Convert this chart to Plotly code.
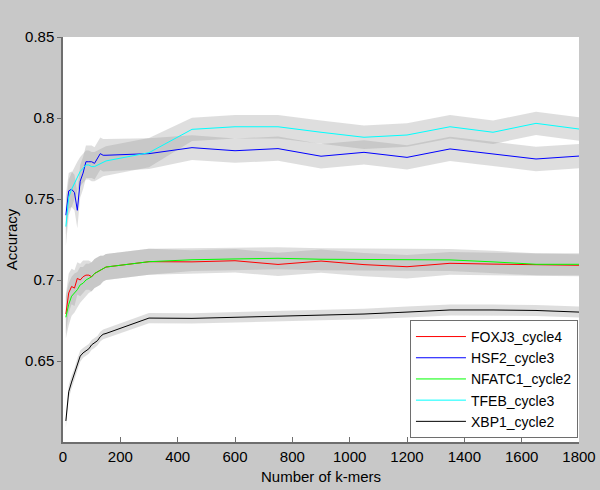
import plotly.graph_objects as go

# ---- data ----
kmers = [10, 20, 30, 40, 50, 60, 70, 80, 90, 100, 110, 120, 130, 140, 150,
         300, 450, 600, 750, 900, 1050, 1200, 1350, 1500, 1650, 1800]

series_names = ["FOXJ3_cycle4", "HSF2_cycle3", "NFATC1_cycle2", "TFEB_cycle3", "XBP1_cycle2"]

foxj3 = [0.679, 0.692, 0.696, 0.695, 0.701, 0.700, 0.702, 0.703, 0.703, 0.702, 0.704, 0.705, 0.706, 0.707, 0.708,
         0.7113, 0.7112, 0.7119, 0.7096, 0.7117, 0.7095, 0.7082, 0.7103, 0.7098, 0.7094, 0.7091]
hsf2 = [0.740, 0.755, 0.756, 0.754, 0.743, 0.761, 0.766, 0.773, 0.773, 0.773, 0.772, 0.775, 0.778, 0.777, 0.777,
        0.7780, 0.7817, 0.7798, 0.7811, 0.7764, 0.7788, 0.7757, 0.7809, 0.7778, 0.7747, 0.7765]
nfatc1 = [0.677, 0.685, 0.690, 0.692, 0.694, 0.697, 0.698, 0.700, 0.701, 0.702, 0.704, 0.705, 0.706, 0.707, 0.708,
          0.7113, 0.7125, 0.7130, 0.7134, 0.7128, 0.7126, 0.7125, 0.7124, 0.7112, 0.7097, 0.7097]
tfeb = [0.733, 0.751, 0.756, 0.760, 0.764, 0.767, 0.769, 0.771, 0.771, 0.770, 0.770, 0.771, 0.772, 0.773, 0.7735,
        0.7786, 0.7930, 0.7946, 0.7946, 0.7912, 0.7881, 0.7895, 0.7946, 0.7912, 0.7967, 0.7932]
xbp1 = [0.613, 0.631, 0.637, 0.642, 0.648, 0.653, 0.655, 0.656, 0.6575, 0.660, 0.661, 0.6625, 0.665, 0.6665, 0.667,
        0.6765, 0.6763, 0.6770, 0.6775, 0.6785, 0.6790, 0.6802, 0.6815, 0.6815, 0.6812, 0.6802]

foxj3_sd = [0.012, 0.012, 0.011, 0.011, 0.010, 0.010, 0.010, 0.009, 0.009, 0.009, 0.009, 0.009, 0.009, 0.008, 0.008,
            0.008, 0.0072, 0.0072, 0.0072, 0.0072, 0.0072, 0.0072, 0.0070, 0.0070, 0.0068, 0.0068]
hsf2_sd = [0.012, 0.011, 0.011, 0.011, 0.011, 0.010, 0.010, 0.010, 0.010, 0.010, 0.010, 0.010, 0.010, 0.010, 0.010,
           0.0095, 0.0076, 0.0075, 0.0075, 0.0075, 0.0075, 0.0075, 0.0075, 0.0075, 0.0075, 0.0075]
nfatc1_sd = [0.013, 0.013, 0.012, 0.012, 0.011, 0.011, 0.010, 0.010, 0.009, 0.009, 0.009, 0.009, 0.009, 0.008, 0.008,
             0.008, 0.0070, 0.0070, 0.0068, 0.0068, 0.0068, 0.0068, 0.0068, 0.0068, 0.0068, 0.0068]
tfeb_sd = [0.012, 0.011, 0.010, 0.010, 0.009, 0.009, 0.009, 0.009, 0.009, 0.009, 0.009, 0.009, 0.009, 0.009, 0.009,
           0.0090, 0.0072, 0.0072, 0.0072, 0.0072, 0.0072, 0.0072, 0.0072, 0.0072, 0.0072, 0.0072]
xbp1_sd = [0.004, 0.004, 0.004, 0.0035, 0.0035, 0.0035, 0.003, 0.003, 0.003, 0.003, 0.003, 0.003, 0.003, 0.003, 0.003,
           0.0032, 0.0032, 0.0032, 0.0032, 0.0033, 0.0033, 0.0034, 0.0034, 0.0034, 0.0034, 0.0034]

series_values = [foxj3, hsf2, nfatc1, tfeb, xbp1]
series_sd = [foxj3_sd, hsf2_sd, nfatc1_sd, tfeb_sd, xbp1_sd]
series_colors = ["#ff0000", "#0000ff", "#00ff00", "#00ffff", "#000000"]

x_ticks = [0, 200, 400, 600, 800, 1000, 1200, 1400, 1600, 1800]
y_ticks = [0.65, 0.70, 0.75, 0.80, 0.85]

# ---- figure ----
fig = go.Figure()

band_fill = "rgba(156,156,156,0.33)"
for vals, sd in zip(series_values, series_sd):
    upper = [v + s for v, s in zip(vals, sd)]
    lower = [v - s for v, s in zip(vals, sd)]
    fig.add_trace(go.Scatter(
        x=kmers + kmers[::-1],
        y=upper + lower[::-1],
        fill="toself", fillcolor=band_fill,
        line=dict(width=0), mode="lines",
        hoverinfo="skip", showlegend=False,
    ))

for name, vals, color in zip(series_names, series_values, series_colors):
    fig.add_trace(go.Scatter(
        x=kmers, y=vals, name=name, mode="lines",
        line=dict(color=color, width=1),
    ))

font_family = "Liberation Sans, Arial, Helvetica, sans-serif"

fig.update_layout(
    width=600, height=490,
    margin=dict(l=63, r=21, t=37, b=48, autoexpand=False),
    paper_bgcolor="#c8c8c8",
    plot_bgcolor="#ffffff",
    font=dict(family=font_family, size=15, color="#000000"),
    showlegend=True,
    legend=dict(
        x=0.998, y=0.01, xanchor="right", yanchor="bottom",
        bgcolor="#ffffff", bordercolor="#6e6e6e", borderwidth=1,
        font=dict(family=font_family, size=14, color="#000000"),
        tracegroupgap=0, itemwidth=50,
    ),
)

fig.update_xaxes(
    range=[0, 1800], tickvals=x_ticks,
    showgrid=False, zeroline=False,
    showline=True, linecolor="#6e6e6e", linewidth=1.5, mirror=False,
    ticks="inside", ticklen=5, tickcolor="#6e6e6e",
    title=dict(text="Number of k-mers", standoff=8, font=dict(size=15)),
)
fig.update_yaxes(
    range=[0.6, 0.85], tickvals=y_ticks,
    showgrid=False, zeroline=False,
    showline=True, linecolor="#6e6e6e", linewidth=1.5, mirror=False,
    ticks="outside", ticklen=4, tickcolor="#6e6e6e",
    title=dict(text="Accuracy", standoff=4, font=dict(size=15)),
)

fig.write_html(
    "out.html",
    config={"displayModeBar": False},
    post_script="document.body.style.margin='0';document.body.style.padding='0';document.body.style.overflow='hidden';",
)
